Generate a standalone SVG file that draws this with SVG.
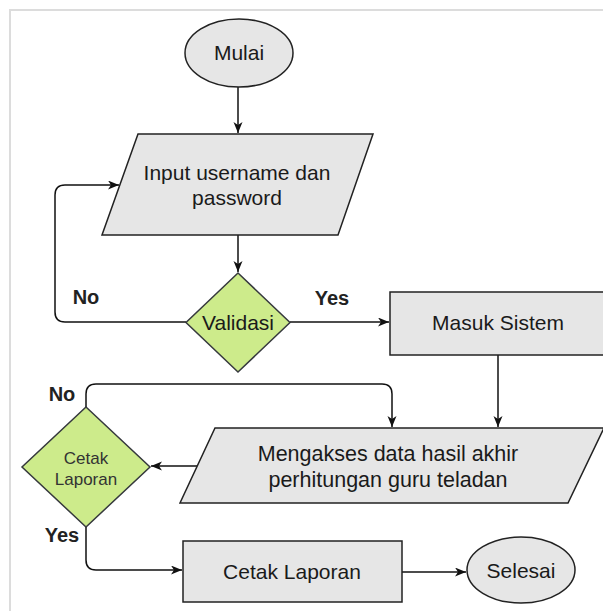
<svg xmlns="http://www.w3.org/2000/svg" width="603" height="611" viewBox="0 0 603 611">
<defs>
<style>
.frame{fill:none;stroke:#dcdcdc;stroke-width:2}
.proc{fill:#e6e6e6;stroke:#222;stroke-width:1.5}
.dec{fill:#cdeb8b;stroke:#36393d;stroke-width:1.5}
.conn{fill:none;stroke:#111;stroke-width:1.5}
.t{font-family:"Liberation Sans",Arial,sans-serif;font-size:21px;fill:#1a1a1a;text-anchor:middle}
.ts{font-family:"Liberation Sans",Arial,sans-serif;font-size:17px;fill:#333;text-anchor:middle}
.lbl{font-family:"Liberation Sans",Arial,sans-serif;font-size:20px;font-weight:bold;fill:#222;text-anchor:middle}
</style>
<marker id="arr" markerUnits="userSpaceOnUse" markerWidth="12" markerHeight="10" refX="11" refY="4.5" orient="auto">
<path d="M0,0 L11,4.5 L0,9 L3,4.5 Z" fill="#111"/>
</marker>
</defs>
<rect class="frame" x="10" y="10" width="600" height="610"/>
<g id="connectors">
<path class="conn" d="M238,87 V133" marker-end="url(#arr)"/>
<path class="conn" d="M238,235 V272" marker-end="url(#arr)"/>
<path class="conn" d="M186,322 H65 Q55,322 55,312 V195 Q55,185 65,185 H119" marker-end="url(#arr)"/>
<path class="conn" d="M290,322 H389" marker-end="url(#arr)"/>
<path class="conn" d="M498,355 V427" marker-end="url(#arr)"/>
<path class="conn" d="M198,466 H151" marker-end="url(#arr)"/>
<path class="conn" d="M86,407 V394 Q86,384 96,384 H382 Q392,384 392,394 V427" marker-end="url(#arr)"/>
<path class="conn" d="M86,527 V560 Q86,570 96,570 H182" marker-end="url(#arr)"/>
<path class="conn" d="M402,572 H466" marker-end="url(#arr)"/>
</g>
<g id="mulai">
<ellipse class="proc" cx="239" cy="53" rx="54" ry="34"/>
<text class="t" x="239" y="60">Mulai</text>
</g>
<g id="input">
<polygon class="proc" points="138,134 373,134 338,235 102,235"/>
<text class="t" x="237" y="179.5">Input username dan</text>
<text class="t" x="237" y="204.5">password</text>
</g>
<g id="validasi">
<polygon class="dec" points="238,273 290,322.5 238,372 186,322.5"/>
<text class="t" x="238" y="330">Validasi</text>
</g>
<g id="masuk">
<rect class="proc" x="390" y="292" width="216" height="63"/>
<text class="t" x="498" y="329.5">Masuk Sistem</text>
</g>
<g id="mengakses">
<polygon class="proc" points="215,428 604,428 568,503 180,503"/>
<text class="t" x="388" y="460.5" style="font-size:21.5px">Mengakses data hasil akhir</text>
<text class="t" x="388" y="487" style="font-size:21.5px">perhitungan guru teladan</text>
</g>
<g id="cetak-decision">
<polygon class="dec" points="86,407 150,467 86,527 22,467"/>
<text class="ts" x="86" y="464">Cetak</text>
<text class="ts" x="86" y="485">Laporan</text>
</g>
<g id="cetak-laporan">
<rect class="proc" x="183" y="541" width="219" height="61"/>
<text class="t" x="292" y="579">Cetak Laporan</text>
</g>
<g id="selesai">
<ellipse class="proc" cx="521" cy="570" rx="54" ry="33"/>
<text class="t" x="521" y="577.5">Selesai</text>
</g>
<g id="labels">
<text class="lbl" x="86" y="304">No</text>
<text class="lbl" x="332" y="305">Yes</text>
<text class="lbl" x="62" y="401">No</text>
<text class="lbl" x="62" y="542">Yes</text>
</g>
</svg>
